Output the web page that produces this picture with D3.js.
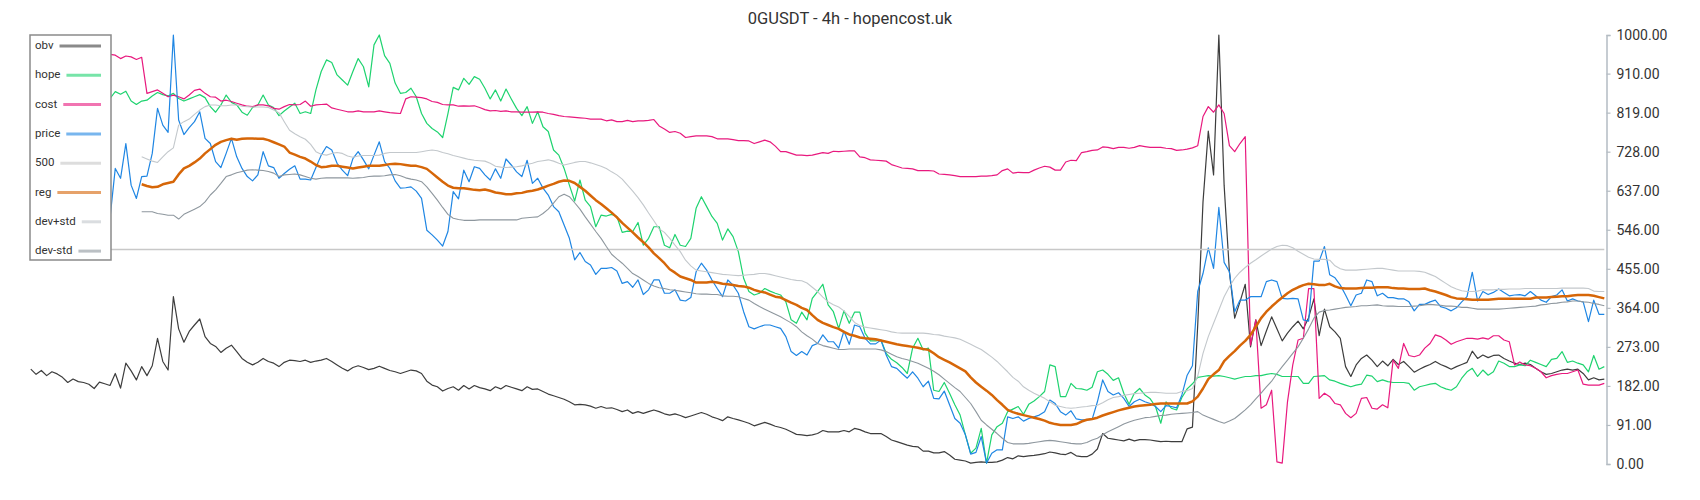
<!DOCTYPE html>
<html><head><meta charset="utf-8">
<script src="https://cdn.jsdelivr.net/npm/d3@7"></script>
<style>body{margin:0;background:#fff;} svg{display:block;font-family:Roboto,"Noto Sans",sans-serif;}</style>
</head><body>
<svg id="chart" width="1700" height="500"></svg>
<script>
const title = "0GUSDT - 4h - hopencost.uk";
const yTicks = [0, 91, 182, 273, 364, 455, 546, 637, 728, 819, 910, 1000];
const level500 = 500;
const seriesNames = ["obv", "hope", "cost", "price", "500", "reg", "dev+std", "dev-std"];

const obv = [
221,209,218,206,215,210,202,190,198,192,
190,186,176,191,187,183,211,177,235,217,
196,227,206,229,293,239,219,390,315,284,
309,324,338,297,281,274,260,270,277,262,
246,237,231,237,246,239,235,227,237,242,
241,239,242,237,240,242,246,239,231,223,
217,225,229,225,220,223,228,223,218,215,
211,215,219,217,211,193,184,180,170,176,
180,172,183,175,183,178,175,171,180,175,
183,179,175,171,180,174,175,169,163,159,
155,151,145,138,139,138,135,130,134,130,
131,127,122,126,118,122,118,122,126,122,
117,114,117,113,108,112,116,120,116,110,
106,101,110,106,103,99,95,89,93,97,
93,88,85,81,75,69,68,66,68,71,
78,75,75,75,78,75,83,80,75,71,
71,71,64,56,52,48,44,41,40,30,
30,26,26,29,21,11,9,7,2,4,
5,4,4,5,9,15,12,19,17,19,
20,22,24,28,26,23,22,27,19,17,
17,23,35,71,60,58,56,54,58,54,
57,57,56,54,52,53,52,52,52,82,
86,324,611,776,674,1000,650,448,340,378,
419,273,336,276,310,343,315,287,305,320,
333,315,341,385,299,361,320,308,293,227,
204,231,246,254,242,227,240,229,244,232,
239,227,214,221,227,232,239,232,227,221,
227,232,237,263,246,254,248,253,254,246,
240,235,232,235,232,223,215,209,211,215,
219,221,219,221,211,196,201,196,198];

const hope = [
null,null,null,null,null,null,null,null,null,null,
null,null,null,null,null,852,868,862,869,846,
838,846,848,858,866,861,858,864,852,846,
851,856,861,854,833,820,837,860,843,837,
820,813,831,837,860,837,831,812,823,832,
841,817,821,817,872,915,942,936,907,895,
883,915,945,926,879,977,1000,952,934,888,
864,866,876,856,817,794,782,774,761,817,
878,872,899,885,903,897,876,851,872,846,
874,851,829,812,833,794,821,786,775,732,
720,689,650,613,662,615,600,553,580,578,
582,577,540,543,542,563,510,526,553,553,
510,504,535,510,507,526,596,623,600,577,
561,522,548,530,495,433,402,394,398,409,
403,398,394,378,336,328,354,336,386,402,
419,371,355,316,357,328,354,354,305,287,
287,289,258,244,236,225,211,270,293,266,
270,172,169,190,165,138,114,68,25,37,
83,2,68,87,95,122,128,134,116,139,
147,157,169,231,227,157,157,188,176,175,
172,179,215,219,209,195,201,165,139,165,
176,161,152,134,95,145,130,126,155,175,
187,202,204,206,205,206,204,201,198,201,
204,204,206,206,209,211,209,204,204,204,
204,188,188,204,205,206,196,193,188,184,
180,184,186,207,205,192,196,192,190,190,
190,188,172,180,183,186,188,180,175,172,
180,200,215,223,204,219,207,215,240,235,
227,227,231,229,242,237,232,227,244,246,
262,237,240,235,231,215,253,221,227];

const cost = [
null,null,null,null,null,null,null,null,null,null,
null,null,null,null,null,955,953,945,951,949,
943,948,864,868,872,864,856,860,856,851,
860,871,874,864,856,855,846,848,845,841,
837,834,833,837,837,835,829,827,833,838,
837,838,846,834,837,838,839,830,827,824,
821,821,823,821,821,821,823,821,819,818,
817,851,856,855,854,851,845,843,838,837,
837,834,835,834,835,831,826,823,824,822,
823,821,821,820,820,820,821,820,817,815,
812,810,809,808,807,806,804,804,804,800,
802,798,798,801,798,800,800,801,803,788,
781,773,775,771,761,763,765,765,765,763,
758,758,758,756,754,754,753,747,751,755,
751,741,728,728,724,720,720,719,720,723,
726,724,729,728,729,730,730,716,714,709,
708,707,706,698,694,690,689,688,684,684,
684,683,676,675,674,672,670,670,670,670,
671,671,672,674,684,688,678,680,679,679,
685,690,694,692,685,685,704,708,707,726,
728,731,732,739,738,735,738,738,736,738,
742,740,738,738,738,736,735,731,732,734,
737,742,810,833,820,837,817,742,728,747,
763,277,336,130,138,172,5,2,145,231,
289,293,409,409,153,165,157,141,138,118,
108,118,153,155,130,128,138,131,242,223,
281,253,250,254,270,281,301,297,289,279,
285,289,293,293,291,294,291,299,299,289,
285,231,238,231,229,223,215,201,206,209,
211,211,215,219,186,184,184,184,188];

const price = [
null,null,null,null,null,null,null,null,null,null,
null,null,null,null,null,573,689,666,747,650,
619,670,671,724,829,790,773,1000,802,768,
784,798,821,759,747,705,691,724,759,716,
689,670,660,674,728,695,691,666,677,687,
695,664,664,662,691,720,740,732,701,685,
672,712,728,709,688,720,751,705,689,660,
643,644,646,636,619,545,534,522,508,542,
635,618,685,658,693,689,674,662,688,666,
711,697,681,670,708,654,666,643,627,600,
588,557,526,476,493,472,464,442,456,456,
458,450,421,425,412,429,395,406,429,429,
398,398,406,382,380,388,448,468,452,429,
409,390,429,417,398,355,320,315,320,324,
324,320,316,297,262,253,262,254,276,281,
301,285,285,270,310,279,324,320,293,280,
280,289,254,227,223,211,200,215,200,180,
193,153,152,170,138,106,95,68,23,27,
64,2,25,33,33,110,106,110,100,106,
110,114,122,149,141,122,114,124,105,103,
103,104,145,196,169,161,166,153,134,145,
151,145,141,134,122,136,134,131,161,207,
229,402,444,504,456,598,470,448,355,382,
382,390,390,390,425,429,425,386,385,386,
385,336,333,473,473,507,441,434,417,394,
369,394,398,429,425,392,398,388,388,385,
385,378,357,372,372,378,382,367,363,357,
364,378,390,447,380,402,395,400,408,400,
392,394,395,392,402,392,382,377,390,394,
406,380,385,380,378,332,382,349,349];

const reg = [
null,null,null,null,null,null,null,null,null,null,
null,null,null,null,null,null,null,null,null,null,
null,652,648,645,646,652,655,658,675,689,
695,703,712,724,734,744,751,755,758,756,
758,759,759,758,758,755,750,745,740,726,
721,716,712,705,697,692,693,695,695,693,
691,689,691,693,695,695,695,697,699,700,
699,697,695,695,692,688,678,668,658,649,
644,643,643,641,639,638,640,637,633,631,
629,629,631,632,635,637,640,644,649,653,
658,661,660,655,646,637,626,615,606,596,
586,575,562,551,540,528,517,505,491,480,
468,454,446,437,433,429,423,423,423,425,
423,420,419,417,415,414,411,406,402,400,
395,390,388,382,376,371,364,359,347,336,
329,324,319,315,308,302,299,295,293,292,
291,288,285,282,279,277,275,273,271,268,
266,258,249,243,237,230,223,216,202,190,
180,171,161,149,138,126,121,117,114,111,
108,105,101,96,93,91,91,91,93,99,
103,105,108,113,117,121,125,128,131,134,
136,137,138,140,141,141,141,141,141,141,
146,157,176,198,209,219,240,252,263,276,
287,301,320,340,355,367,378,388,398,406,
412,417,420,419,417,417,420,414,410,409,
409,409,410,411,411,412,412,412,410,409,
409,408,408,408,409,405,402,398,394,389,
386,385,384,383,383,383,383,384,385,385,
385,385,385,385,385,388,388,388,389,390,
391,391,393,394,394,394,392,389,386];

const devUp = [
null,null,null,null,null,null,null,null,null,null,
null,null,null,null,null,null,null,null,null,null,
null,716,711,706,703,716,728,737,790,798,
804,815,825,833,837,837,835,835,837,837,
834,833,832,832,832,831,825,819,798,778,
770,763,757,745,728,722,720,724,726,724,
718,715,718,719,719,719,720,724,726,726,
726,726,726,726,728,730,732,730,726,723,
719,716,713,710,708,707,706,701,694,692,
691,692,693,695,698,701,705,707,709,706,
701,697,700,703,705,705,702,698,694,689,
681,674,664,650,636,621,604,585,567,548,
540,526,510,495,475,462,452,450,448,446,
444,442,441,440,439,440,441,442,444,444,
442,439,436,433,430,428,427,422,412,402,
389,378,371,366,357,344,330,323,319,317,
315,313,311,308,306,305,305,305,305,305,
304,302,301,298,296,294,291,285,279,273,
267,258,249,239,227,215,202,193,180,172,
165,159,153,145,137,134,131,130,131,133,
134,136,137,143,150,155,157,160,162,164,
165,166,167,167,166,165,165,165,169,171,
176,205,258,297,328,359,390,413,433,447,
458,468,476,485,493,501,507,510,509,504,
496,489,482,478,477,477,475,462,455,452,
452,452,453,454,455,456,456,454,452,450,
450,450,450,449,447,442,437,429,421,413,
408,404,402,402,403,406,406,406,407,407,
408,408,408,409,409,409,409,409,409,409,
410,410,410,410,410,409,403,402,402];

const devDn = [
null,null,null,null,null,null,null,null,null,null,
null,null,null,null,null,null,null,null,null,null,
null,588,588,588,584,582,580,580,571,582,
588,594,600,611,627,639,654,670,674,679,
682,685,686,685,684,682,678,670,674,675,
676,674,670,666,664,666,667,667,667,667,
667,666,667,668,670,671,671,672,674,675,
672,667,664,662,658,646,631,615,598,582,
573,570,568,568,568,569,569,569,569,569,
569,569,569,573,574,575,576,584,594,608,
623,629,623,609,594,576,559,542,526,507,
489,478,468,456,444,437,429,421,415,411,
409,406,405,403,401,399,397,396,396,395,
395,392,391,391,390,386,382,374,367,361,
355,349,343,336,329,320,308,299,291,281,
276,273,270,267,267,268,268,268,268,268,
268,266,262,256,250,246,243,239,235,229,
223,216,208,198,188,178,169,155,141,122,
102,91,81,71,60,50,47,47,47,48,
50,52,54,55,54,52,50,48,47,47,
50,56,60,68,75,81,87,93,98,102,
105,108,109,111,113,114,116,117,118,119,
120,122,114,109,104,99,95,100,106,116,
126,138,152,165,180,193,211,227,242,258,
273,293,315,340,354,358,359,361,363,365,
366,367,369,369,370,371,369,368,368,367,
367,367,368,369,371,372,371,370,368,368,
367,365,365,363,361,361,361,361,361,362,
363,364,365,366,367,368,371,372,374,375,
377,378,380,380,378,377,374,372,369];

const colors = {
  "obv": "#3d3d3d", "hope": "#1ed36f", "cost": "#e8197e", "price": "#1f86e3",
  "500": "#c8c8c8", "reg": "#d66608", "dev+std": "#c3c8cc", "dev-std": "#8e979e"
};
const widths = {
  "obv": 1.2, "hope": 1.2, "cost": 1.2, "price": 1.2,
  "500": 1.5, "reg": 2.5, "dev+std": 1.1, "dev-std": 1.1
};

const svg = d3.select("#chart");
const N = obv.length;
const x = d3.scaleLinear().domain([0, N - 1]).range([30.8, 1604.3]);
const y = d3.scaleLinear().domain([0, 1000]).range([464, 35]);

svg.append("text").attr("x", 850).attr("y", 20).attr("text-anchor", "middle")
  .attr("dominant-baseline", "middle").attr("font-size", 16.5).attr("fill", "#333").text(title);

const axis = d3.axisRight(y).tickValues(yTicks).tickFormat(d => d.toFixed(2))
  .tickSizeInner(4).tickSizeOuter(4).tickPadding(6);
const ag = svg.append("g").attr("transform", "translate(1606.5,0)").call(axis);
ag.select(".domain").attr("stroke", "#b4bcc3").attr("stroke-width", 1.5);
ag.selectAll(".tick line").attr("stroke", "#b4bcc3").attr("stroke-width", 1.2);
ag.selectAll(".tick text").attr("fill", "#333").attr("font-size", 14)
  .attr("font-family", "Roboto, sans-serif");

const line = d3.line().defined(d => d != null).x((d, i) => x(i)).y(d => y(d));
const dataByName = {"obv": obv, "hope": hope, "cost": cost, "price": price,
  "reg": reg, "dev+std": devUp, "dev-std": devDn};

seriesNames.forEach(name => {
  if (name === "500") {
    svg.append("line").attr("x1", x(0)).attr("x2", x(N - 1))
      .attr("y1", y(level500)).attr("y2", y(level500))
      .attr("stroke", colors[name]).attr("stroke-width", widths[name]);
  } else {
    svg.append("path").datum(dataByName[name]).attr("d", line)
      .attr("fill", "none").attr("stroke", colors[name])
      .attr("stroke-width", widths[name]).attr("stroke-linejoin", "round");
  }
});

// legend
const lg = svg.append("g");
lg.append("rect").attr("x", 30).attr("y", 35).attr("width", 81).attr("height", 225)
  .attr("fill", "#fff").attr("stroke", "#8a8a8a").attr("stroke-width", 1.5);
seriesNames.forEach((name, k) => {
  const cy = 46 + k * 29.3;
  const t = lg.append("text").attr("x", 35).attr("y", cy).attr("dominant-baseline", "middle")
    .attr("font-size", 11.5).attr("fill", "#333").text(name);
  const w = t.node().getComputedTextLength();
  lg.append("line").attr("x1", 35 + w + 6).attr("x2", 101).attr("y1", cy).attr("y2", cy)
    .attr("stroke", colors[name]).attr("stroke-width", 3).attr("opacity", 0.6);
});
</script>
</body></html>
